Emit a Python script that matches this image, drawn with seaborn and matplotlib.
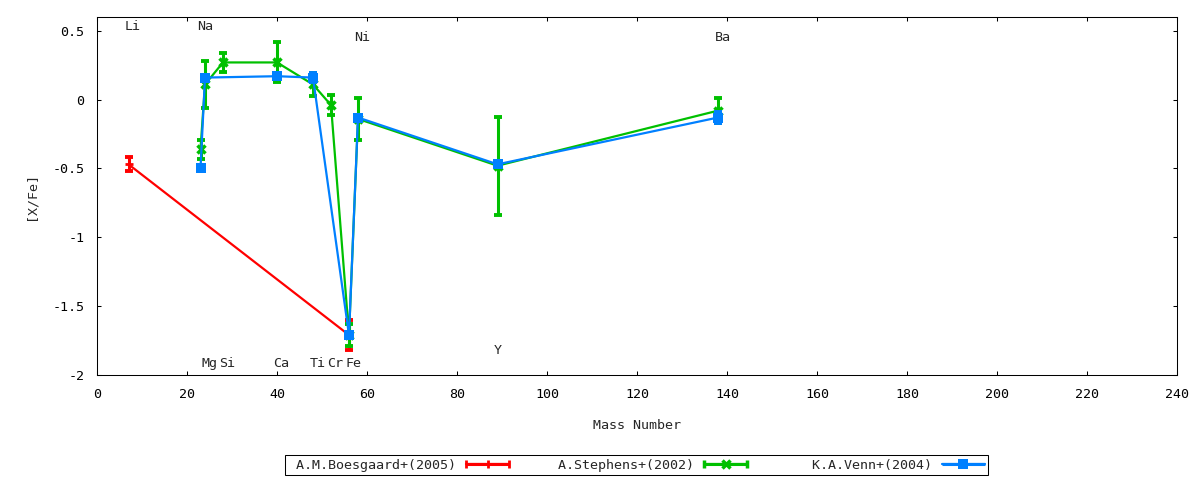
import numpy as np
import pandas as pd
import matplotlib
matplotlib.use("Agg")
import matplotlib.pyplot as plt
import seaborn as sns
from matplotlib.ticker import MultipleLocator, FuncFormatter
from matplotlib.container import ErrorbarContainer
from matplotlib.legend_handler import HandlerErrorbar

# nhan nguyen to (ten, so khoi, vi tri y cua chu)
elements = ['Li', 'Na', 'Mg', 'Si', 'Ca', 'Ti', 'Cr', 'Fe', 'Ni', 'Y', 'Ba']
element_mass = [7, 23, 24, 28, 40, 48, 52, 56, 58, 89, 138]
element_label_y = [0.53, 0.53, -1.92, -1.92, -1.92, -1.92, -1.92, -1.92, 0.45, -1.82, 0.45]

# A.M.Boesgaard+(2005)
boes_mass = [7, 56]
boes_xfe = [-0.47, -1.71]
boes_err = [0.05, 0.11]

# A.Stephens+(2002)
steph_mass = [23, 24, 28, 40, 48, 52, 56, 58, 89, 138]
steph_xfe = [-0.36, 0.11, 0.27, 0.27, 0.11, -0.04, -1.71, -0.14, -0.48, -0.08]
steph_err = [0.07, 0.17, 0.07, 0.145, 0.085, 0.075, 0.08, 0.15, 0.355, 0.09]

# K.A.Venn+(2004)
venn_mass = [23, 24, 40, 48, 56, 58, 89, 138]
venn_xfe = [-0.50, 0.16, 0.17, 0.16, -1.71, -0.13, -0.47, -0.13]
venn_err = [0.0, 0.0, 0.0, 0.03, 0.0, 0.0, 0.0, 0.04]

sources = ['A.M.Boesgaard+(2005)', 'A.Stephens+(2002)', 'K.A.Venn+(2004)']
df = pd.concat([
    pd.DataFrame({'mass': boes_mass, 'xfe': boes_xfe, 'err': boes_err, 'source': sources[0]}),
    pd.DataFrame({'mass': steph_mass, 'xfe': steph_xfe, 'err': steph_err, 'source': sources[1]}),
    pd.DataFrame({'mass': venn_mass, 'xfe': venn_xfe, 'err': venn_err, 'source': sources[2]}),
], ignore_index=True)

styles = {
    sources[0]: dict(color='#ff0000', marker='+', ms=6, mew=2),
    sources[1]: dict(color='#00c000', marker='x', ms=5.5, mew=2.5),
    sources[2]: dict(color='#0080ff', marker='s', ms=7.5, mew=0),
}

sns.set_style('ticks')
plt.rcParams['font.family'] = ['DejaVu Sans Mono', 'DejaVu Sans']
plt.rcParams['font.size'] = 9.6
plt.rcParams['axes.unicode_minus'] = False

fig = plt.figure(figsize=(12, 4.8), dpi=100)
ax = fig.add_axes([97 / 1200, 1 - 375 / 480, (1177 - 97) / 1200, (375 - 17) / 480])

handles = []
for i, name in enumerate(sources):
    d = df[df['source'] == name]
    st = styles[name]
    z = 2 + i * 2
    d_err = d[d['err'] > 0]
    ax.errorbar(d_err['mass'], d_err['xfe'], yerr=d_err['err'], fmt='none',
                ecolor=st['color'], elinewidth=2.2, capsize=2.9, capthick=2.8, zorder=z)
    sns.lineplot(data=d, x='mass', y='xfe', sort=False, estimator=None, ax=ax,
                 color=st['color'], lw=1.6, marker=st['marker'], markersize=st['ms'],
                 markeredgewidth=st['mew'], markeredgecolor=st['color'],
                 legend=False, zorder=z + 1)
    # mau chu giai kieu gnuplot (thanh ngang co mu o hai dau)
    h = ax.errorbar([np.nan], [np.nan], xerr=[1], color=st['color'], lw=1.6,
                    marker=st['marker'], ms=st['ms'], mew=st['mew'], mec=st['color'],
                    elinewidth=2.2, capsize=2.9, capthick=2.8, label=name)
    handles.append(h)

for el, m, yl in zip(elements, element_mass, element_label_y):
    ax.text(m - 0.8, yl, el, ha='left', va='center', fontsize=9.6)

ax.set_xlim(0, 240)
ax.set_ylim(-2, 0.6)
ax.xaxis.set_major_locator(MultipleLocator(20))
ax.yaxis.set_major_locator(MultipleLocator(0.5))
ax.yaxis.set_major_formatter(FuncFormatter(lambda v, p: f'{v:g}'))
ax.tick_params(direction='in', length=3.2, width=0.75, top=True, right=True,
               pad=9, labelsize=9.6, colors='black')
for s in ax.spines.values():
    s.set_linewidth(0.75)
    s.set_color('black')
ax.set_xlabel('Mass Number', labelpad=13.5)
ax.set_ylabel('[X/Fe]', labelpad=11)

# cot chu giai deu nhau, chu canh phai sat mau
width = max(len(s) for s in sources) + 1
legend_labels = [s.rjust(width) for s in sources]
leg = fig.legend(handles=handles, labels=legend_labels, loc='center',
                 bbox_to_anchor=(636.5 / 1200, 1 - 465 / 480),
                 ncol=3, markerfirst=False, frameon=True, fancybox=False, framealpha=1,
                 edgecolor='black', borderpad=0.25, handlelength=3.2, handletextpad=0.75,
                 columnspacing=1.28, numpoints=1, fontsize=9.6,
                 handler_map={ErrorbarContainer: HandlerErrorbar(xerr_size=1.6)})
leg.get_frame().set_linewidth(0.75)

fig.savefig('out.png', dpi=100)
